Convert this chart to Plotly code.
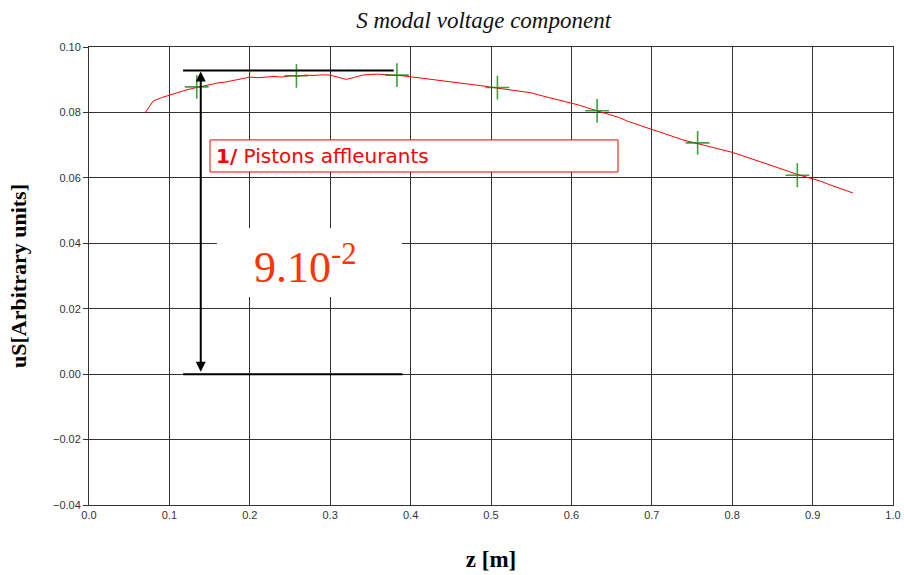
import plotly.graph_objects as go

# Measured curve (red line)
z_curve = [0.07, 0.08, 0.09, 0.10, 0.11, 0.12, 0.13, 0.14, 0.15, 0.16, 0.17, 0.18, 0.19,
           0.20, 0.21, 0.22, 0.23, 0.24, 0.25, 0.26, 0.27, 0.28, 0.29, 0.30, 0.31, 0.32,
           0.33, 0.34, 0.35, 0.36, 0.37, 0.38, 0.39, 0.40, 0.41, 0.42, 0.43, 0.44, 0.45,
           0.46, 0.47, 0.48, 0.49, 0.50, 0.51, 0.52, 0.53, 0.54, 0.55, 0.56, 0.57, 0.58,
           0.59, 0.60, 0.61, 0.62, 0.63, 0.64, 0.65, 0.66, 0.67, 0.68, 0.69, 0.70, 0.71,
           0.72, 0.73, 0.74, 0.75, 0.76, 0.77, 0.78, 0.79, 0.80, 0.81, 0.82, 0.83, 0.84,
           0.85, 0.86, 0.87, 0.88, 0.89, 0.90, 0.91, 0.92, 0.93, 0.94, 0.95]
u_curve = [0.0800, 0.0835, 0.0845, 0.0853, 0.0860, 0.0868, 0.0874, 0.0880, 0.0884, 0.0890,
           0.0893, 0.0898, 0.0903, 0.0908, 0.0906, 0.0909, 0.0910, 0.0908, 0.0912, 0.0911,
           0.0914, 0.0913, 0.0915, 0.0914, 0.0908, 0.0901, 0.0907, 0.0914, 0.0916, 0.0917,
           0.0915, 0.0914, 0.0912, 0.0909, 0.0906, 0.0904, 0.0901, 0.0897, 0.0894, 0.0891,
           0.0889, 0.0885, 0.0881, 0.0877, 0.0874, 0.0870, 0.0867, 0.0864, 0.0860, 0.0853,
           0.0847, 0.0840, 0.0834, 0.0828, 0.0822, 0.0814, 0.0807, 0.0800, 0.0793, 0.0784,
           0.0773, 0.0764, 0.0757, 0.0748, 0.0740, 0.0731, 0.0722, 0.0715, 0.0709, 0.0703,
           0.0696, 0.0689, 0.0683, 0.0678, 0.0670, 0.0662, 0.0654, 0.0646, 0.0638, 0.0630,
           0.0620, 0.0611, 0.0604, 0.0598, 0.0590, 0.0580, 0.0571, 0.0563, 0.0554]

# Computed points (green crosses)
z_pts = [0.134, 0.258, 0.383, 0.508, 0.632, 0.757, 0.881]
u_pts = [0.0878, 0.0912, 0.0914, 0.0876, 0.0805, 0.0707, 0.0608]

# Annotation values
amp_top = 0.0928
amp_bottom = 0.0

x_ticks = [0.0, 0.1, 0.2, 0.3, 0.4, 0.5, 0.6, 0.7, 0.8, 0.9, 1.0]
y_ticks = [-0.04, -0.02, 0.0, 0.02, 0.04, 0.06, 0.08, 0.10]

fig = go.Figure()
fig.add_trace(go.Scatter(x=z_curve, y=u_curve, mode="lines",
                         line=dict(color="#ff0000", width=1), showlegend=False))
fig.add_trace(go.Scatter(x=z_pts, y=u_pts, mode="markers",
                         marker=dict(symbol="cross-thin", size=17,
                                     line=dict(color="rgba(0,128,0,0.75)", width=1.6)),
                         showlegend=False))

# horizontal amplitude lines
fig.add_shape(type="line", x0=0.117, x1=0.379, y0=amp_top, y1=amp_top,
              line=dict(color="black", width=2))
fig.add_shape(type="line", x0=0.117, x1=0.390, y0=amp_bottom, y1=amp_bottom,
              line=dict(color="black", width=2))

# double arrow
fig.add_annotation(x=0.139, y=amp_top - 0.0003, ax=0.139, ay=amp_bottom + 0.0003,
                   xref="x", yref="y", axref="x", ayref="y", text="",
                   showarrow=True, arrowhead=2, startarrowhead=2, arrowside="end+start",
                   arrowwidth=2, arrowsize=1, startarrowsize=1, arrowcolor="black")

# label box
fig.add_shape(type="rect", x0=0.1505, x1=0.658, y0=0.0618, y1=0.0716,
              line=dict(color="#ff0000", width=1), fillcolor="white")
fig.add_annotation(x=0.155, y=0.0667, xref="x", yref="y", xanchor="left", yanchor="middle",
                   text="<b>1/</b> Pistons affleurants", showarrow=False,
                   font=dict(family="DejaVu Sans, sans-serif", size=20, color="#ff0000"))

# white box with amplitude value
fig.add_shape(type="rect", x0=0.159, x1=0.389, y0=0.0236, y1=0.0447,
              line=dict(width=0), fillcolor="white")
fig.add_annotation(x=0.269, y=0.0334, xref="x", yref="y", xanchor="center", yanchor="middle",
                   text="9.10<sup>-2</sup>", showarrow=False,
                   font=dict(family="Liberation Serif, serif", size=44, color="#ff3300"))

fig.update_layout(
    width=904, height=575,
    margin=dict(l=89, r=11, t=47, b=70),
    paper_bgcolor="white", plot_bgcolor="white",
    title=dict(text="<i>S modal voltage component</i>", x=0.535, xanchor="center",
               y=0.965, yanchor="middle",
               font=dict(family="Liberation Serif, serif", size=23, color="#111")),
)
fig.update_xaxes(range=[0, 1], tickvals=x_ticks, tickformat=".1f", automargin=False,
                 showgrid=True, gridcolor="#333", gridwidth=1,
                 showline=True, linecolor="#333", linewidth=1, mirror=True,
                 ticks="", zeroline=False,
                 tickfont=dict(family="Liberation Sans, Arial, sans-serif", size=11, color="#333"),
                 title=dict(text="<b>z [m]</b>", standoff=30,
                            font=dict(family="Liberation Serif, serif", size=23, color="black")))
fig.update_yaxes(range=[-0.04, 0.10], tickvals=y_ticks, tickformat=".2f", automargin=False,
                 showgrid=True, gridcolor="#333", gridwidth=1,
                 showline=True, linecolor="#333", linewidth=1, mirror=True,
                 ticks="outside", ticklen=5, tickcolor="#333", zeroline=False,
                 tickfont=dict(family="Liberation Sans, Arial, sans-serif", size=11, color="#333"),
                 title=dict(text="<b>uS[Arbitrary units]</b>", standoff=20,
                            font=dict(family="Liberation Serif, serif", size=22, color="black")))

fig.write_html("out.html")
